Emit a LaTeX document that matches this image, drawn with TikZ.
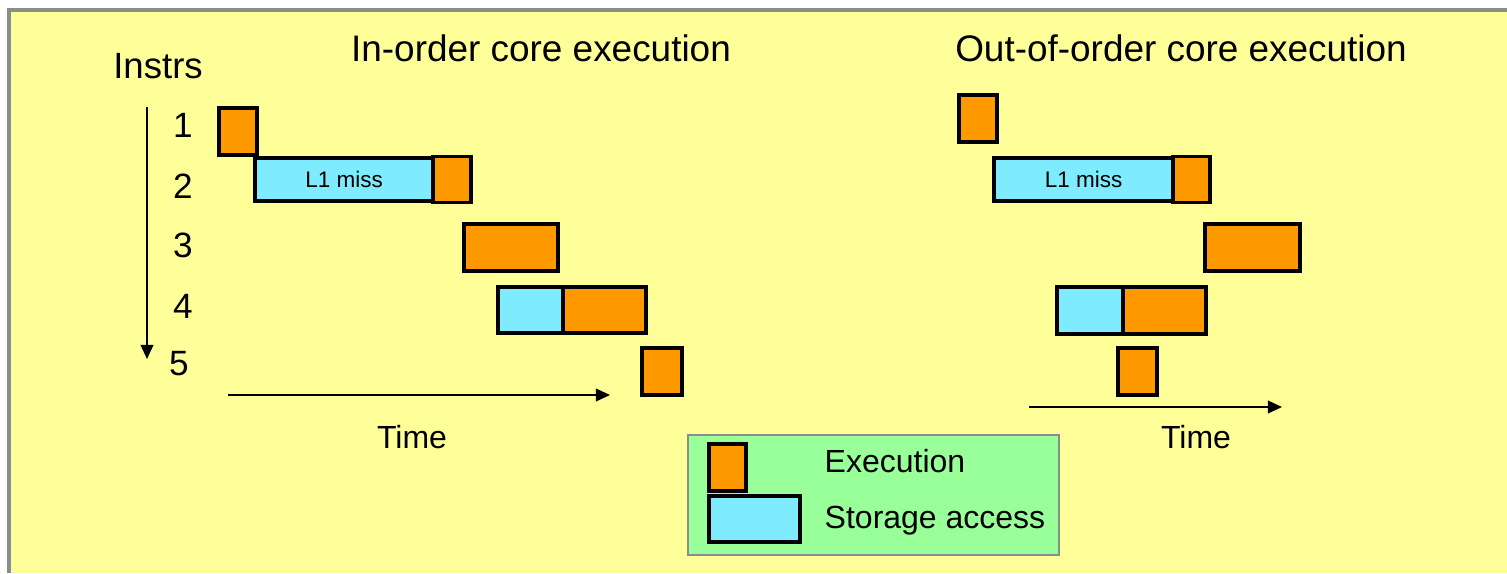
\documentclass[tikz,border=0pt]{standalone}
\usepackage{fontspec}
\setmainfont{Liberation Sans}
\usetikzlibrary{positioning,arrows.meta}

\definecolor{slideyellow}{HTML}{FFFF99}
\definecolor{exeorange}{HTML}{FF9900}
\definecolor{memcyan}{HTML}{7FEBFF}
\definecolor{keygreen}{HTML}{99FF99}
\definecolor{framegrey}{HTML}{8C8C8C}

\tikzset{
  slot/.style={draw=black, line width=1pt, inner sep=0pt, outer sep=0pt},
  exe/.style={slot, fill=exeorange},
  mem/.style={slot, fill=memcyan, font=\fontsize{6.4}{7}\selectfont},
  axis/.style={line width=0.5pt, -{Triangle[length=4pt,width=3.6pt]}},
  title/.style={anchor=base, font=\fontsize{10.5}{12}\selectfont},
  lbl/.style={anchor=base, font=\fontsize{9.1}{11}\selectfont},
}

\begin{document}
\begin{tikzpicture}[x=0.01cm, y=-0.01cm]
	\useasboundingbox (0,0) rectangle (1507,573);
	\fill[slideyellow] (9,10) rectangle (1507,573);
	\draw[framegrey, line width=0.9pt] (9,573) |- (1507,10);
	%
	\node[title] (ino) at (541,62) {In-order core execution};
	\node[title] (ooo) at (1181,62) {Out-of-order core execution};
	\node[title, font=\fontsize{10.4}{12}\selectfont] (instrs) at (158,79) {Instrs};
	\foreach \n/\x/\y in {1/183/138, 2/183/198, 3/183/257, 4/183/318, 5/179/375}
		\node[title, font=\fontsize{10}{12}\selectfont] (n\n) at (\x,\y) {\n};
	\coordinate (vtop) at (147,107);
	\coordinate (vbot) at (147,359);
	\draw[axis] (vtop) -- (vbot);
	%
	% in-order
	\node[exe, anchor=north west, minimum width=0.38cm, minimum height=0.47cm] (i1) at (219,108) {};
	\node[mem, anchor=north west, minimum width=1.78cm, minimum height=0.43cm] (i2m) at (255,158) {L1 miss};
	\node[exe, right=0pt of i2m, minimum width=0.38cm, minimum height=0.46cm] (i2x) {};
	\node[exe, anchor=north west, minimum width=0.94cm, minimum height=0.47cm] (i3) at (464,224) {};
	\node[mem, anchor=north west, minimum width=0.65cm, minimum height=0.46cm] (i4m) at (498,287) {};
	\node[exe, right=0pt of i4m, minimum width=0.83cm, minimum height=0.46cm] (i4x) {};
	\node[exe, anchor=north west, minimum width=0.40cm, minimum height=0.47cm] (i5) at (642,348) {};
	\coordinate (it0) at (228,395);
	\coordinate (it1) at (610,395);
	\draw[axis] (it0) -- (it1);
	\node[lbl] (itime) at (412,448) {Time};
	%
	% out-of-order
	\node[exe, anchor=north west, minimum width=0.38cm, minimum height=0.47cm] (o1) at (959,95) {};
	\node[mem, anchor=north west, minimum width=1.79cm, minimum height=0.43cm] (o2m) at (994,158) {L1 miss};
	\node[exe, right=0pt of o2m, minimum width=0.37cm, minimum height=0.46cm] (o2x) {};
	\node[exe, anchor=north west, minimum width=0.95cm, minimum height=0.47cm] (o3) at (1205,224) {};
	\node[mem, anchor=north west, minimum width=0.66cm, minimum height=0.47cm] (o4m) at (1057,287) {};
	\node[exe, right=0pt of o4m, minimum width=0.83cm, minimum height=0.47cm] (o4x) {};
	\node[exe, anchor=north west, minimum width=0.39cm, minimum height=0.47cm] (o5) at (1118,348) {};
	\coordinate (ot0) at (1029,407);
	\coordinate (ot1) at (1282,407);
	\draw[axis] (ot0) -- (ot1);
	\node[lbl] (otime) at (1196,448) {Time};
	%
	% key
	\node[draw=framegrey, fill=keygreen, line width=0.6pt, anchor=north west, minimum width=3.71cm, minimum height=1.2cm] (key) at (687,434) {};
	\node[exe, anchor=north west, minimum width=0.37cm, minimum height=0.47cm] (keyx) at (709,444) {};
	\node[mem, anchor=north west, minimum width=0.91cm, minimum height=0.46cm] (keym) at (709,496) {};
	\node[lbl, anchor=base west, inner sep=0pt] (keyxt) at (824,472) {Execution};
	\node[lbl, anchor=base west, inner sep=0pt] (keymt) at (824,528) {Storage access};
\end{tikzpicture}
\end{document}
